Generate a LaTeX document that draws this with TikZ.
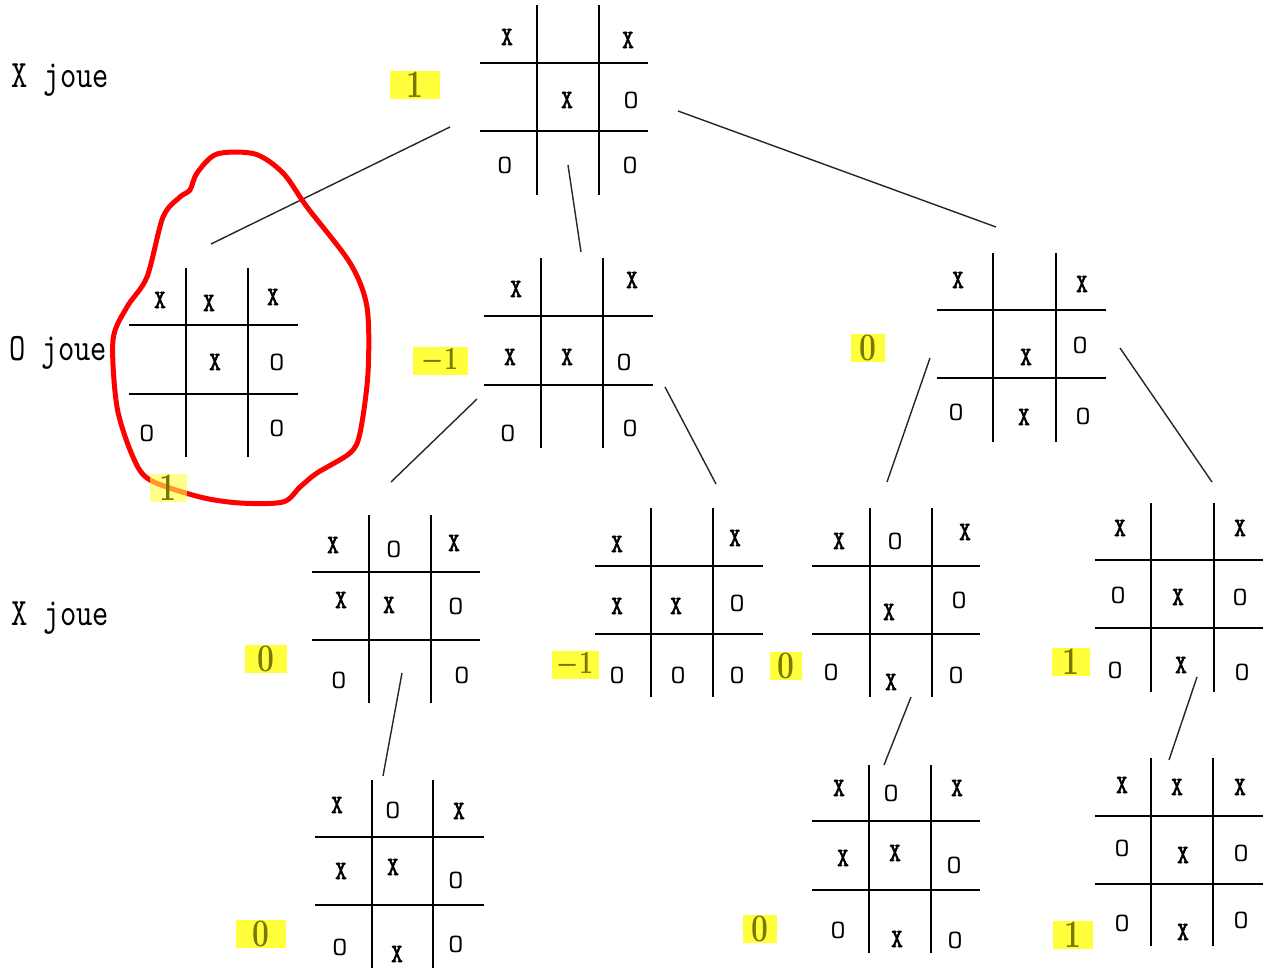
\documentclass[tikz,border=0pt]{standalone}
\usepackage{fontspec}
\usepackage{graphicx}
\newfontfamily\monof{lmmono10-regular.otf}
\newfontfamily\monob{lmmono10-regular.otf}[FakeBold=2.5]
\definecolor{hl}{RGB}{255,255,60}
\definecolor{hltext}{RGB}{120,120,0}
\newcommand{\mX}{\scalebox{1}[1.2]{\monob X}}
\newcommand{\mO}{\scalebox{1.3}[1.2]{O}}
\newcommand{\vtxt}[1]{\scalebox{1}[1.3]{#1}}
\newcommand{\grd}[8]{\draw[gridline] (#1,#3) -- (#1,#4) (#2,#3) -- (#2,#4) (#7,#5) -- (#8,#5) (#7,#6) -- (#8,#6);}
\begin{document}
\begin{tikzpicture}[x=1pt,y=-1pt,
  gridline/.style={line width=2.2pt,black},
  conn/.style={line width=1.4pt,black!85},
  mk/.style={inner sep=0pt,font=\monof\fontsize{22}{22}\selectfont},
  rowlab/.style={anchor=west,inner sep=0pt,font=\monof\fontsize{31}{34}\selectfont},
  val/.style={fill=hl,text=hltext,inner sep=0pt,minimum height=28pt,font=\fontsize{30}{30}\selectfont\bfseries\boldmath}]
\useasboundingbox[fill=white] (0,0) rectangle (1268,973);

% row labels
\node[rowlab] (l1) at (11,80) {\scalebox{1}[1.25]{X joue}};
\node[rowlab] (l2) at (9,353) {\scalebox{1}[1.25]{O joue}};
\node[rowlab] (l3) at (11,618) {\scalebox{1}[1.25]{X joue}};

% ---- Board A (root)
\grd{537}{599}{5}{195}{63}{131}{480}{648}
\node[mk] (a1) at (507,37) {\mX};
\node[mk] (a3) at (628,40) {\mX};
\node[mk] (a5) at (567,100) {\mX};
\node[mk] (a6) at (631,100) {\mO};
\node[mk] (a7) at (505,165) {\mO};
\node[mk] (a9) at (630,165) {\mO};
\node[val,minimum width=50pt] (vA) at (415,85) {\vtxt{1}};

% ---- Board B (circled)
\grd{186}{248}{268}{457}{325}{394}{129}{298}
\node[mk] (b1) at (160,300) {\mX};
\node[mk] (b2) at (209,303) {\mX};
\node[mk] (b3) at (273,297) {\mX};
\node[mk] (b5) at (215,362) {\mX};
\node[mk] (b6) at (277,362) {\mO};
\node[mk] (b7) at (147,433) {\mO};
\node[mk] (b9) at (277,428) {\mO};

% ---- Board C
\grd{541}{603}{258}{448}{316}{385}{484}{653}
\node[mk] (c1) at (516,289) {\mX};
\node[mk] (c3) at (632,280) {\mX};
\node[mk] (c4) at (510,357) {\mX};
\node[mk] (c5) at (567,357) {\mX};
\node[mk] (c6) at (624,362) {\mO};
\node[mk] (c7) at (508,433) {\mO};
\node[mk] (c9) at (630,428) {\mO};
\node[val,minimum width=55pt] (vC) at (440,361) {\vtxt{$-1$}};

% ---- Board D
\grd{993}{1056}{253}{442}{310}{378}{937}{1106}
\node[mk] (d1) at (958,280) {\mX};
\node[mk] (d3) at (1082,284) {\mX};
\node[mk] (d5) at (1026,357) {\mX};
\node[mk] (d6) at (1080,345) {\mO};
\node[mk] (d7) at (956,412) {\mO};
\node[mk] (d8) at (1024,417) {\mX};
\node[mk] (d9) at (1083,416) {\mO};
\node[val,minimum width=34pt] (vD) at (868,348) {\vtxt{0}};

% ---- Board E
\grd{369}{431}{515}{703}{572}{640}{312}{480}
\node[mk] (e1) at (333,545) {\mX};
\node[mk] (e2) at (394,549) {\mO};
\node[mk] (e3) at (454,543) {\mX};
\node[mk] (e4) at (341,600) {\mX};
\node[mk] (e5) at (389,605) {\mX};
\node[mk] (e6) at (456,606) {\mO};
\node[mk] (e7) at (339,680) {\mO};
\node[mk] (e9) at (462,675) {\mO};
\node[val,minimum width=42pt] (vE) at (266,659) {\vtxt{0}};

% ---- Board F
\grd{651}{713}{508}{697}{566}{634}{595}{763}
\node[mk] (f1) at (617,544) {\mX};
\node[mk] (f3) at (735,538) {\mX};
\node[mk] (f4) at (617,606) {\mX};
\node[mk] (f5) at (676,606) {\mX};
\node[mk] (f6) at (737,603) {\mO};
\node[mk] (f7) at (617,675) {\mO};
\node[mk] (f8) at (678,675) {\mO};
\node[mk] (f9) at (737,675) {\mO};
\node[val,minimum width=47pt] (vF) at (575,665) {\vtxt{$-1$}};

% ---- Board G
\grd{870}{932}{508}{697}{566}{634}{812}{980}
\node[mk] (g1) at (839,541) {\mX};
\node[mk] (g2) at (895,541) {\mO};
\node[mk] (g3) at (965,532) {\mX};
\node[mk] (g5) at (889,612) {\mX};
\node[mk] (g6) at (959,600) {\mO};
\node[mk] (g7) at (831,672) {\mO};
\node[mk] (g8) at (891,682) {\mX};
\node[mk] (g9) at (956,675) {\mO};
\node[val,minimum width=32pt] (vG) at (786,666) {\vtxt{0}};

% ---- Board H
\grd{1151}{1214}{503}{692}{560}{628}{1095}{1263}
\node[mk] (h1) at (1120,528) {\mX};
\node[mk] (h3) at (1240,528) {\mX};
\node[mk] (h4) at (1118,595) {\mO};
\node[mk] (h5) at (1178,597) {\mX};
\node[mk] (h6) at (1240,597) {\mO};
\node[mk] (h7) at (1115,670) {\mO};
\node[mk] (h8) at (1181,665) {\mX};
\node[mk] (h9) at (1242,672) {\mO};
\node[val,minimum width=38pt] (vH) at (1071,662) {\vtxt{1}};

% ---- Board I
\grd{372}{433}{780}{968}{837}{905}{315}{484}
\node[mk] (i1) at (337,805) {\mX};
\node[mk] (i2) at (393,810) {\mO};
\node[mk] (i3) at (459,811) {\mX};
\node[mk] (i4) at (341,871) {\mX};
\node[mk] (i5) at (393,867) {\mX};
\node[mk] (i6) at (456,880) {\mO};
\node[mk] (i7) at (340,947) {\mO};
\node[mk] (i8) at (397,954) {\mX};
\node[mk] (i9) at (456,944) {\mO};
\node[val,minimum width=50pt] (vI) at (261,934) {\vtxt{0}};

% ---- Board J
\grd{869}{931}{765}{953}{821}{890}{812}{980}
\node[mk] (j1) at (839,788) {\mX};
\node[mk] (j2) at (891,793) {\mO};
\node[mk] (j3) at (957,788) {\mX};
\node[mk] (j4) at (843,858) {\mX};
\node[mk] (j5) at (895,853) {\mX};
\node[mk] (j6) at (954,865) {\mO};
\node[mk] (j7) at (838,930) {\mO};
\node[mk] (j8) at (897,939) {\mX};
\node[mk] (j9) at (955,940) {\mO};
\node[val,minimum width=34pt] (vJ) at (760,929) {\vtxt{0}};

% ---- Board K
\grd{1151}{1213}{758}{946}{816}{884}{1095}{1263}
\node[mk] (k1) at (1122,785) {\mX};
\node[mk] (k2) at (1177,787) {\mX};
\node[mk] (k3) at (1240,787) {\mX};
\node[mk] (k4) at (1122,848) {\mO};
\node[mk] (k5) at (1183,855) {\mX};
\node[mk] (k6) at (1241,853) {\mO};
\node[mk] (k7) at (1122,923) {\mO};
\node[mk] (k8) at (1183,932) {\mX};
\node[mk] (k9) at (1241,920) {\mO};
\node[val,minimum width=40pt] (vK) at (1073,935) {\vtxt{1}};

% ---- connectors
\coordinate (A-bl) at (450,127);  \coordinate (B-t) at (211,244);
\coordinate (A-b) at (568,165);   \coordinate (C-t) at (581,252);
\coordinate (A-r) at (678,111);   \coordinate (D-t) at (996,227);
\coordinate (C-bl) at (477,399);  \coordinate (E-t) at (391,482);
\coordinate (C-br) at (665,387);  \coordinate (F-t) at (716,484);
\coordinate (D-bl) at (930,358);  \coordinate (G-t) at (887,482);
\coordinate (D-br) at (1120,348); \coordinate (H-t) at (1212,482);
\coordinate (E-b) at (402,673);   \coordinate (I-t) at (383,776);
\coordinate (G-b) at (911,697);   \coordinate (J-t) at (884,765);
\coordinate (H-b) at (1197,677);  \coordinate (K-t) at (1169,760);
\draw[conn] (A-bl) -- (B-t);
\draw[conn] (A-b) -- (C-t);
\draw[conn] (A-r) -- (D-t);
\draw[conn] (C-bl) -- (E-t);
\draw[conn] (C-br) -- (F-t);
\draw[conn] (D-bl) -- (G-t);
\draw[conn] (D-br) -- (H-t);
\draw[conn] (E-b) -- (I-t);
\draw[conn] (G-b) -- (J-t);
\draw[conn] (H-b) -- (K-t);

% ---- red circle
\draw[red,line width=5pt,line join=round] plot[smooth cycle,tension=0.5] coordinates {
 (217,154) (255,154) (283,173) (307,207) (350,263) (367,307) (368,373) (360,433)
 (350,453) (317,473) (300,487) (283,502) (240,503) (200,497) (150,480) (133,457)
 (117,407) (113,340) (127,307) (147,277) (163,217) (180,197) (190,190) (197,173)};
\node[val,minimum width=37pt,fill opacity=0.6,text opacity=1] (vB) at (168,488) {\vtxt{1}};
\end{tikzpicture}
\end{document}
